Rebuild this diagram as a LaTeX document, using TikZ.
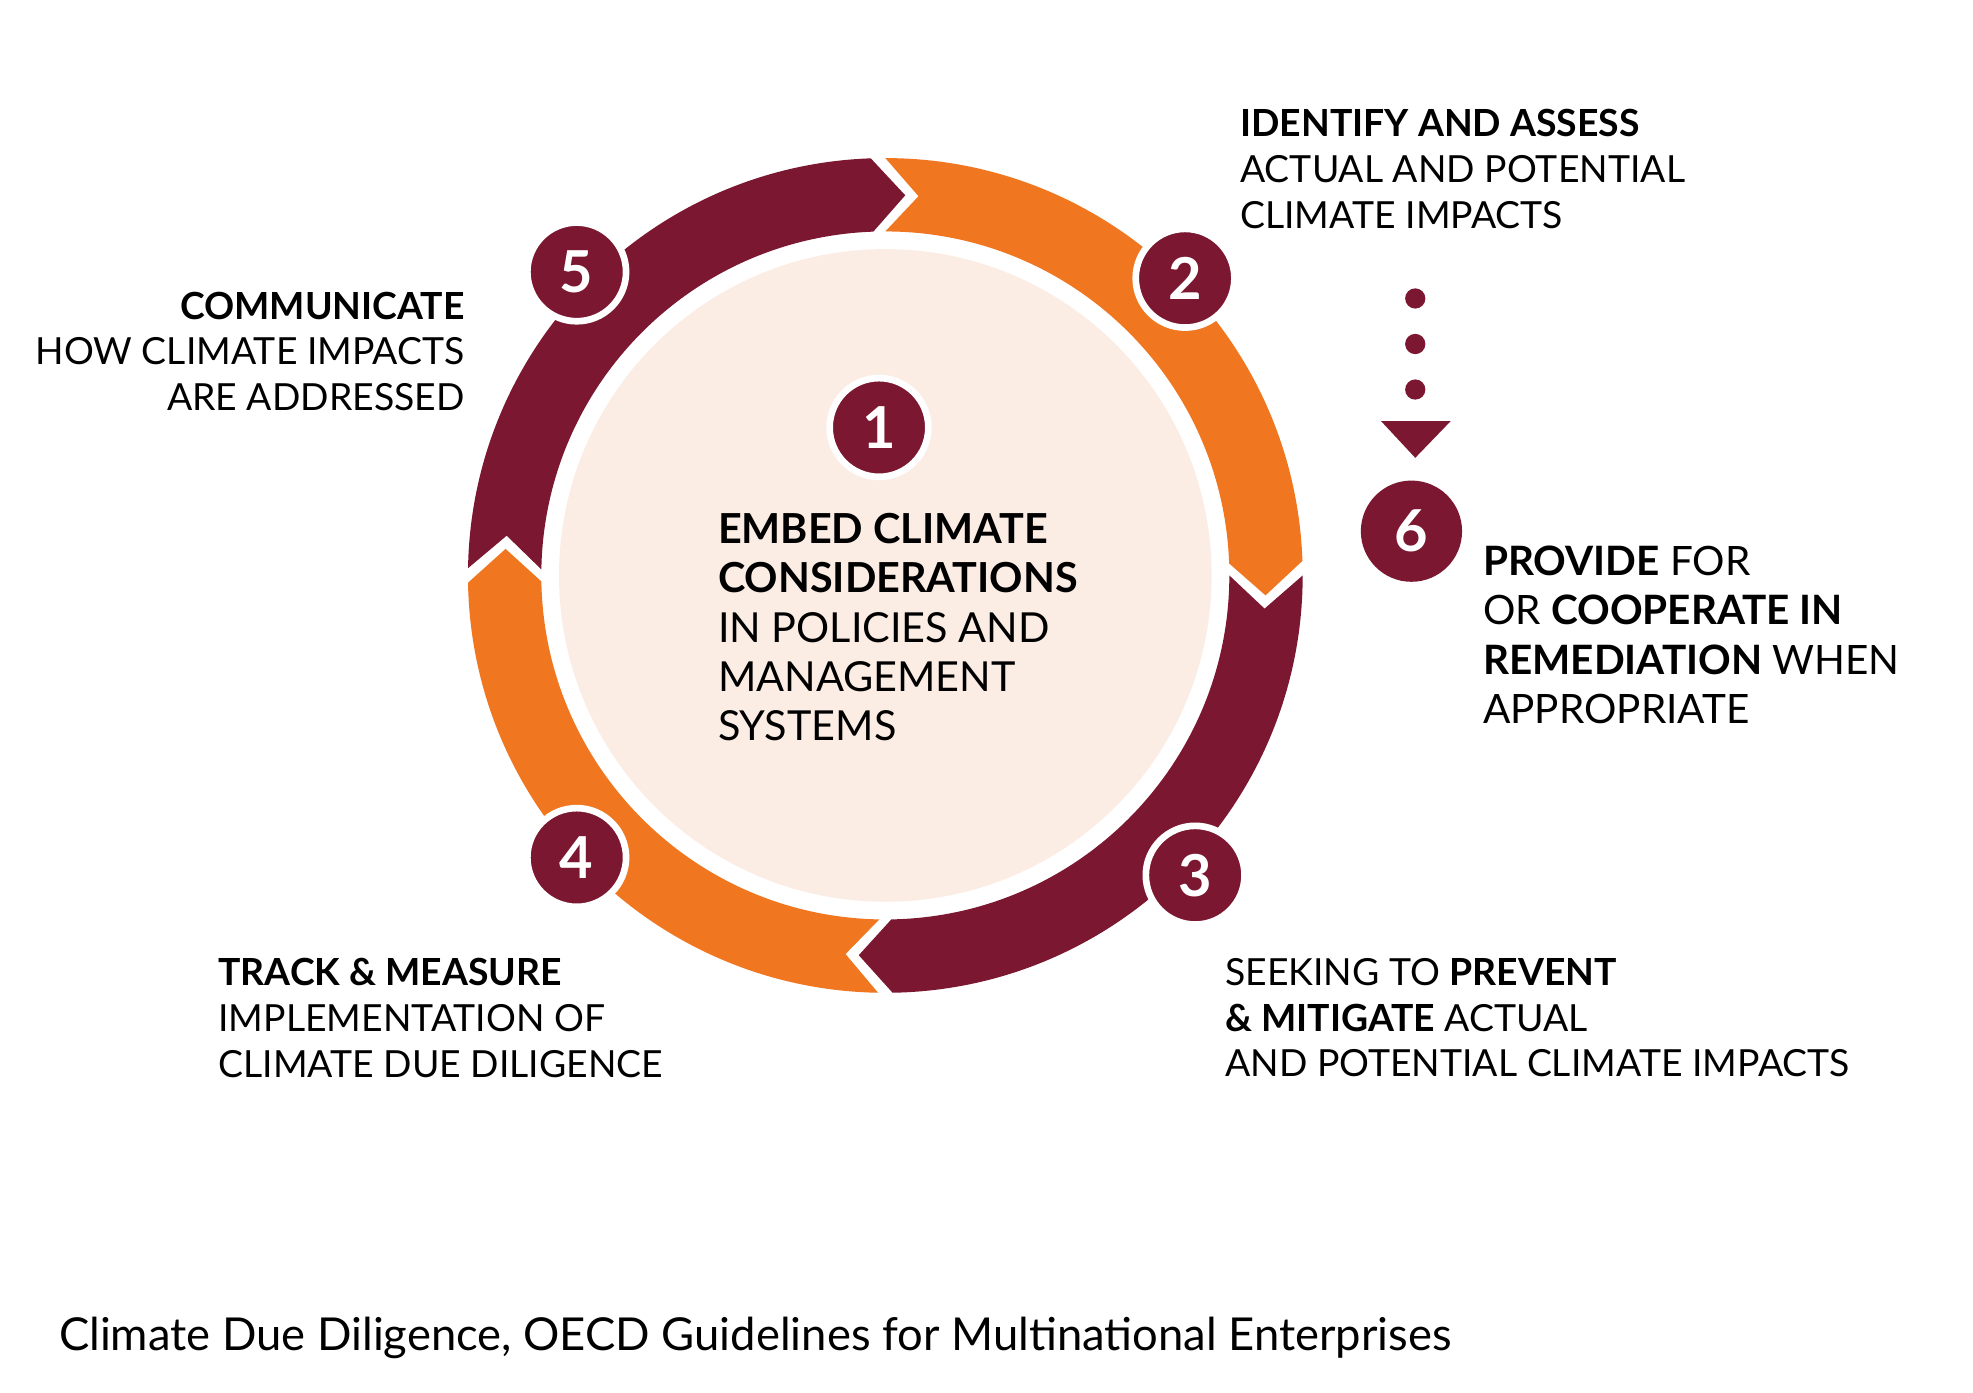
\documentclass[tikz,border=0pt]{standalone}
\usepackage{fontspec}
\setmainfont{Lato}
\definecolor{mar}{HTML}{7B1730}
\definecolor{org}{HTML}{F07620}
\definecolor{lt}{HTML}{FCEDE4}
\begin{document}
\begin{tikzpicture}[x=0.01cm,y=-0.01cm,
 num/.style={circle,fill=mar,draw=white,line width=1.5pt,minimum size=0.78cm,inner sep=0,text=white,font=\fontsize{13}{13}\selectfont\bfseries},
 txt/.style={inner sep=0,font=\fontsize{8.4}{10.3}\selectfont}]
\useasboundingbox (0,0) rectangle (1560,1101);
\fill[white] (0,0) rectangle (1560,1101);
\coordinate (C) at (700,455);
\fill[lt] (C) circle (258);
% segment: start boundary a (notch), end boundary b (point), clockwise; angles negated for flipped y
\def\seg#1#2#3{%
 \pgfmathsetmacro\aA{-(#1)-1}\pgfmathsetmacro\aN{-(#1)+4}%
 \pgfmathsetmacro\bB{-(#2)-3}\pgfmathsetmacro\bT{-(#2)+2}%
 \fill[#3] ([shift={(C)}]\aA:330) arc[start angle=\aA,end angle=\bB,radius=330]
  -- ([shift={(C)}]\bT:301) -- ([shift={(C)}]\bB:272)
  arc[start angle=\bB,end angle=\aA,radius=272]
  -- ([shift={(C)}]\aN:301) -- cycle;}
\seg{89}{-1}{org}
\seg{-1}{-92}{mar}
\seg{-92}{-182}{org}
\seg{178}{89}{mar}
\node[num] (n1) at (695,338) {1};
\node[num] (n2) at (937,220) {2};
\node[num] (n3) at (945,692) {3};
\node[num] (n4) at (456,678) {4};
\node[num] (n5) at (456,215) {5};
\node[num,draw=none,minimum size=0.8cm] (n6) at (1116,420) {6};
\foreach \y/\n in {236/d1,272/d2,308/d3}{\fill[mar] (1119,\y) circle (8);}
\fill[mar] (1092,333) -- (1147,333) -- (1119,362) -- cycle;
\node[txt,anchor=north west,align=left,font=\fontsize{9.3}{11.1}\selectfont] (c1) at (567,405)
 {\textbf{EMBED CLIMATE}\\\textbf{CONSIDERATIONS}\\IN POLICIES AND\\MANAGEMENT\\SYSTEMS};
\node[txt,anchor=north west,align=left] (t2) at (980,86)
 {\textbf{IDENTIFY AND ASSESS}\\ACTUAL AND POTENTIAL\\CLIMATE IMPACTS};
\node[txt,anchor=north east,align=right] (t5) at (368,230)
 {\textbf{COMMUNICATE}\\HOW CLIMATE IMPACTS\\ARE ADDRESSED};
\node[txt,anchor=north west,align=left,font=\fontsize{9.1}{11.1}\selectfont] (t6) at (1172,431)
 {\textbf{PROVIDE} FOR\\OR \textbf{COOPERATE IN}\\\textbf{REMEDIATION} WHEN\\APPROPRIATE};
\node[txt,anchor=north west,align=left] (t4) at (172,757)
 {\textbf{TRACK \& MEASURE}\\IMPLEMENTATION OF\\CLIMATE DUE DILIGENCE};
\node[txt,anchor=north west,align=left] (t3) at (968,757)
 {SEEKING TO \textbf{PREVENT}\\\textbf{\& MITIGATE} ACTUAL\\AND POTENTIAL CLIMATE IMPACTS};
\node[inner sep=0,anchor=west,font=\fontsize{10.2}{12}\selectfont] (f) at (46,1058)
 {Climate Due Diligence, OECD Guidelines for Multinational Enterprises};
\end{tikzpicture}
\end{document}
